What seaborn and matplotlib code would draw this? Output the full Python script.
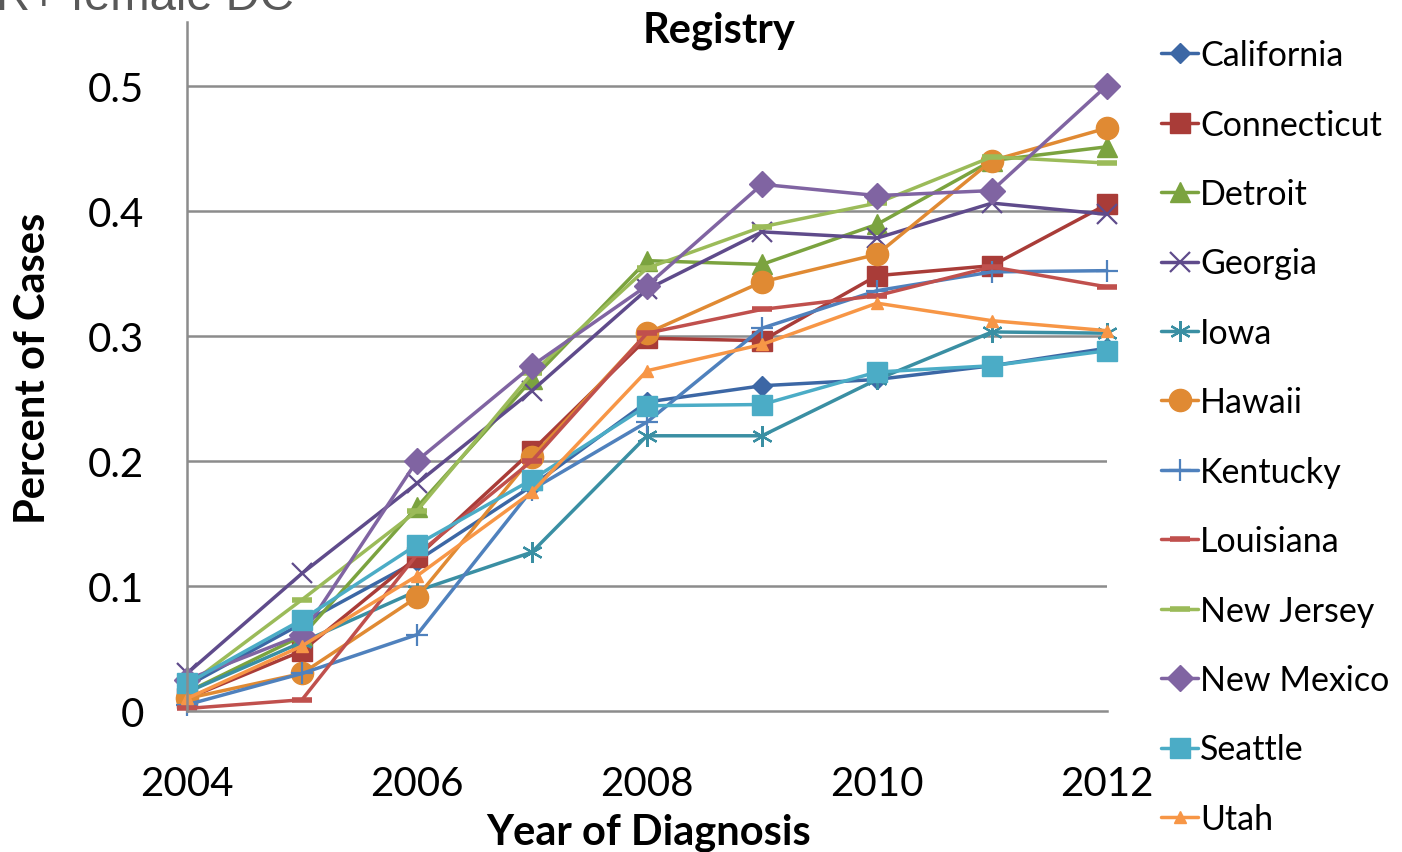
import matplotlib
matplotlib.use("Agg")
import matplotlib.pyplot as plt
import seaborn as sns
import pandas as pd

years = [2004, 2005, 2006, 2007, 2008, 2009, 2010, 2011, 2012]
states = ["California", "Connecticut", "Detroit", "Georgia", "Iowa", "Hawaii",
          "Kentucky", "Louisiana", "New Jersey", "New Mexico", "Seattle", "Utah"]

california = [0.020, 0.070, 0.120, 0.180, 0.247, 0.260, 0.265, 0.276, 0.290]
connecticut = [0.010, 0.048, 0.123, 0.208, 0.298, 0.296, 0.348, 0.356, 0.405]
detroit = [0.015, 0.060, 0.163, 0.265, 0.360, 0.357, 0.389, 0.440, 0.451]
georgia = [0.030, 0.110, 0.182, 0.256, 0.337, 0.383, 0.378, 0.406, 0.397]
iowa = [0.015, 0.055, 0.096, 0.127, 0.220, 0.220, 0.265, 0.303, 0.302]
hawaii = [0.010, 0.030, 0.091, 0.203, 0.302, 0.343, 0.365, 0.440, 0.466]
kentucky = [0.005, 0.030, 0.061, 0.177, 0.231, 0.306, 0.336, 0.351, 0.352]
louisiana = [0.002, 0.009, 0.125, 0.200, 0.302, 0.321, 0.332, 0.355, 0.339]
new_jersey = [0.020, 0.089, 0.160, 0.270, 0.354, 0.387, 0.406, 0.443, 0.438]
new_mexico = [0.025, 0.061, 0.200, 0.276, 0.340, 0.421, 0.412, 0.416, 0.500]
seattle = [0.022, 0.073, 0.133, 0.185, 0.244, 0.245, 0.271, 0.276, 0.288]
utah = [0.010, 0.052, 0.108, 0.175, 0.272, 0.293, 0.326, 0.312, 0.304]

series = [california, connecticut, detroit, georgia, iowa, hawaii,
          kentucky, louisiana, new_jersey, new_mexico, seattle, utah]

ytick_values = [0, 0.1, 0.2, 0.3, 0.4, 0.5]
ytick_labels = ["0", "0.1", "0.2", "0.3", "0.4", "0.5"]
xtick_values = [2004, 2006, 2008, 2010, 2012]
xtick_labels = ["2004", "2006", "2008", "2010", "2012"]

colors = {
    "California": "#3C67A5", "Connecticut": "#A93C38", "Detroit": "#7BA33F",
    "Georgia": "#5F4B8B", "Iowa": "#3A8FA3", "Hawaii": "#E08A33",
    "Kentucky": "#4F81BD", "Louisiana": "#C0504D", "New Jersey": "#9BBB59",
    "New Mexico": "#8064A2", "Seattle": "#4BACC6", "Utah": "#F79646",
}
styles = {
    "California": dict(marker="D", markersize=10, mew=1),
    "Connecticut": dict(marker="s", markersize=15, mew=1),
    "Detroit": dict(marker="^", markersize=14, mew=1),
    "Georgia": dict(marker="x", markersize=14, mew=1.6),
    "Iowa": dict(marker=(6, 2, 0), markersize=15, mew=1.6),
    "Hawaii": dict(marker="o", markersize=16, mew=1),
    "Kentucky": dict(marker="+", markersize=16, mew=1.6),
    "Louisiana": dict(marker="_", markersize=14, mew=4),
    "New Jersey": dict(marker="_", markersize=14, mew=4),
    "New Mexico": dict(marker="D", markersize=13, mew=1),
    "Seattle": dict(marker="s", markersize=15, mew=1),
    "Utah": dict(marker="^", markersize=9, mew=1),
}

sns.set_theme(style="white")
plt.rcParams["font.family"] = ["Lato", "DejaVu Sans"]

fig = plt.figure(figsize=(14.02, 8.53), dpi=100)
ax = fig.add_axes([187 / 1402, 1 - 712 / 853, (1107 - 187) / 1402, (712 - 22.7) / 853])

for name, vals in zip(states, series):
    df = pd.DataFrame({"Year": years, "Value": vals})
    st = styles[name]
    c = colors[name]
    sns.lineplot(data=df, x="Year", y="Value", ax=ax, color=c, linewidth=2.5,
                 marker=st["marker"], markersize=st["markersize"],
                 markeredgewidth=st["mew"], markeredgecolor=c, markerfacecolor=c,
                 label=name, clip_on=False, legend=False)

grid_c = "#8C8C8C"
ax.set_xlim(2004, 2012)
ax.set_ylim(0, 0.551)
ax.set_yticks(ytick_values)
ax.set_yticklabels(ytick_labels)
ax.set_xticks(xtick_values)
ax.set_xticklabels(xtick_labels)
for y in ytick_values[1:]:
    ax.axhline(y, color=grid_c, linewidth=1.8, zorder=0)
for s in ["top", "right"]:
    ax.spines[s].set_visible(False)
for s in ["left", "bottom"]:
    ax.spines[s].set_color(grid_c)
    ax.spines[s].set_linewidth(1.8)
ax.tick_params(axis="both", direction="out", length=9, width=1.6, color=grid_c,
               labelsize=29, labelcolor="black")
ax.tick_params(axis="y", pad=22)
ax.tick_params(axis="x", pad=30)
ax.set_xlabel("")
ax.set_ylabel("")

fig.text(33 / 1402, 1 - 368 / 853, "Percent of Cases", rotation=90, ha="center",
         va="center", fontsize=30, fontweight="bold", color="black")
fig.text(649 / 1402, 1 - 845 / 853, "Year of Diagnosis", ha="center",
         va="baseline", fontsize=30, fontweight="bold", color="black")
fig.text(719 / 1402, 1 - 43 / 853, "Registry", ha="center", va="baseline",
         fontsize=30, fontweight="bold", color="black")
fig.text(-4 / 1402, 1 - 10 / 853, "R+ female DC", ha="left", va="baseline",
         fontsize=34, color="#595959", family=["Liberation Sans", "DejaVu Sans"])

handles, labels = ax.get_legend_handles_labels()
leg = fig.legend(handles, labels, loc="center left",
                 bbox_to_anchor=(1161 / 1402, 1 - 438 / 853), frameon=False,
                 fontsize=24.5, handlelength=1.1, handletextpad=0.05,
                 labelspacing=1.1, borderpad=0, borderaxespad=0)
for t in leg.get_texts():
    t.set_color("black")

fig.savefig("out.png", dpi=100)
